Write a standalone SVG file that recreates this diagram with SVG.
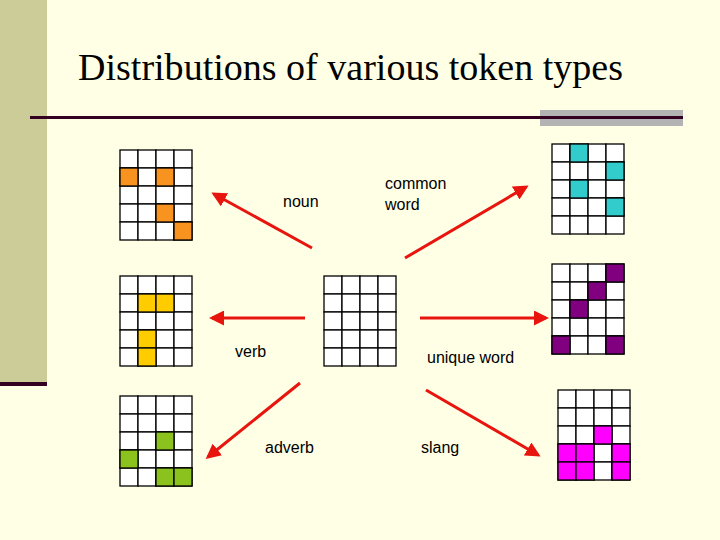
<svg xmlns="http://www.w3.org/2000/svg" width="720" height="540" viewBox="0 0 720 540">
<defs>
<style>
.g rect{fill:#fff;stroke:#000;stroke-width:1.3}
.l{font-family:"Liberation Sans",Arial,sans-serif;font-size:16px;fill:#000}
.a{stroke:#e8140e;stroke-width:3;fill:none;marker-end:url(#h)}
</style>
<marker id="h" viewBox="0 0 10 10" refX="8" refY="5" markerWidth="5" markerHeight="5" orient="auto" markerUnits="strokeWidth"><path d="M0,0L10,5L0,10z" fill="#e8140e"/></marker>
<g id="grid" class="g">
<rect x="0" y="0" width="18" height="18"/><rect x="18" y="0" width="18" height="18"/><rect x="36" y="0" width="18" height="18"/><rect x="54" y="0" width="18" height="18"/>
<rect x="0" y="18" width="18" height="18"/><rect x="18" y="18" width="18" height="18"/><rect x="36" y="18" width="18" height="18"/><rect x="54" y="18" width="18" height="18"/>
<rect x="0" y="36" width="18" height="18"/><rect x="18" y="36" width="18" height="18"/><rect x="36" y="36" width="18" height="18"/><rect x="54" y="36" width="18" height="18"/>
<rect x="0" y="54" width="18" height="18"/><rect x="18" y="54" width="18" height="18"/><rect x="36" y="54" width="18" height="18"/><rect x="54" y="54" width="18" height="18"/>
<rect x="0" y="72" width="18" height="18"/><rect x="18" y="72" width="18" height="18"/><rect x="36" y="72" width="18" height="18"/><rect x="54" y="72" width="18" height="18"/>
</g>
</defs>
<rect width="720" height="540" fill="#ffffe6"/>
<rect x="0" y="0" width="47" height="384" fill="#cccc99"/>
<rect x="0" y="382" width="47" height="4" fill="#330022"/>
<rect x="540" y="110" width="143" height="16" fill="#b3b3b3"/>
<rect x="30" y="116" width="653" height="3" fill="#330022"/>
<text x="78" y="80" font-family="'Liberation Serif','Times New Roman',serif" font-size="37" textLength="545" lengthAdjust="spacingAndGlyphs" fill="#000">Distributions of various token types</text>

<g id="noun-grid"><use href="#grid" x="120" y="150"/>
<g stroke="#000" stroke-width="1.3" fill="#f7931e"><rect x="120" y="168" width="18" height="18"/><rect x="156" y="168" width="18" height="18"/><rect x="156" y="204" width="18" height="18"/><rect x="174" y="222" width="18" height="18"/></g></g>
<g id="verb-grid"><use href="#grid" x="120" y="276"/>
<g stroke="#000" stroke-width="1.3" fill="#ffcc00"><rect x="138" y="294" width="18" height="18"/><rect x="156" y="294" width="18" height="18"/><rect x="138" y="330" width="18" height="18"/><rect x="138" y="348" width="18" height="18"/></g></g>
<g id="adverb-grid"><use href="#grid" x="120" y="396"/>
<g stroke="#000" stroke-width="1.3" fill="#8cc21e"><rect x="156" y="432" width="18" height="18"/><rect x="120" y="450" width="18" height="18"/><rect x="156" y="468" width="18" height="18"/><rect x="174" y="468" width="18" height="18"/></g></g>
<g id="center-grid"><use href="#grid" x="324" y="276"/></g>
<g id="common-grid"><use href="#grid" x="552" y="144"/>
<g stroke="#000" stroke-width="1.3" fill="#33cccc"><rect x="570" y="144" width="18" height="18"/><rect x="606" y="162" width="18" height="18"/><rect x="570" y="180" width="18" height="18"/><rect x="606" y="198" width="18" height="18"/></g></g>
<g id="unique-grid"><use href="#grid" x="552" y="264"/>
<g stroke="#000" stroke-width="1.3" fill="#800080"><rect x="606" y="264" width="18" height="18"/><rect x="588" y="282" width="18" height="18"/><rect x="570" y="300" width="18" height="18"/><rect x="552" y="336" width="18" height="18"/><rect x="606" y="336" width="18" height="18"/></g></g>
<g id="slang-grid"><use href="#grid" x="558" y="390"/>
<g stroke="#000" stroke-width="1.3" fill="#ff00ff"><rect x="594" y="426" width="18" height="18"/><rect x="558" y="444" width="18" height="18"/><rect x="576" y="444" width="18" height="18"/><rect x="612" y="444" width="18" height="18"/><rect x="558" y="462" width="18" height="18"/><rect x="576" y="462" width="18" height="18"/><rect x="612" y="462" width="18" height="18"/></g></g>

<g id="connectors">
<line class="a" x1="312" y1="248" x2="214" y2="194"/>
<line class="a" x1="405" y1="258" x2="526" y2="187"/>
<line class="a" x1="305" y1="318" x2="212" y2="318"/>
<line class="a" x1="420" y1="318" x2="546" y2="318"/>
<line class="a" x1="300" y1="383" x2="208" y2="457"/>
<line class="a" x1="426" y1="390" x2="538" y2="455"/>
</g>
<g id="labels">
<text class="l" x="283" y="207">noun</text>
<text class="l" x="385" y="189">common</text>
<text class="l" x="385" y="210">word</text>
<text class="l" x="235" y="357">verb</text>
<text class="l" x="427" y="363">unique word</text>
<text class="l" x="265" y="453">adverb</text>
<text class="l" x="421" y="453">slang</text>
</g>
</svg>
